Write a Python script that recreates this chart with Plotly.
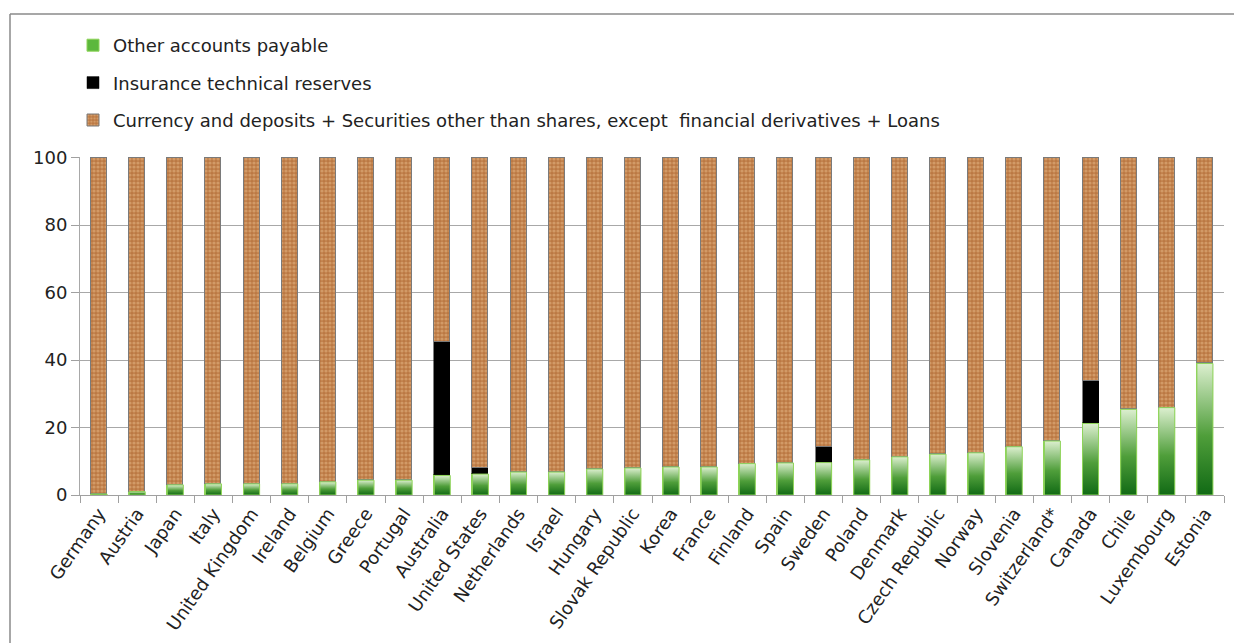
import plotly.graph_objects as go

# Composition of liabilities by country, percent of total
countries = [
    "Germany", "Austria", "Japan", "Italy", "United Kingdom", "Ireland",
    "Belgium", "Greece", "Portugal", "Australia", "United States",
    "Netherlands", "Israel", "Hungary", "Slovak Republic", "Korea", "France",
    "Finland", "Spain", "Sweden", "Poland", "Denmark", "Czech Republic",
    "Norway", "Slovenia", "Switzerland*", "Canada", "Chile", "Luxembourg",
    "Estonia",
]

other_payable = [0.3, 1.0, 3.0, 3.3, 3.3, 3.3, 3.9, 4.4, 4.4, 5.8, 6.2,
                 6.8, 6.8, 7.7, 8.0, 8.3, 8.3, 9.3, 9.5, 9.6, 10.4, 11.3,
                 12.1, 12.5, 14.3, 16.0, 21.2, 25.4, 25.9, 39.0]
insurance = [0, 0, 0, 0, 0, 0, 0, 0, 0, 39.6, 1.8,
             0, 0, 0, 0, 0, 0, 0, 0, 4.6, 0, 0,
             0, 0, 0, 0, 12.6, 0, 0, 0]
currency_loans = [round(100 - a - b, 1) for a, b in zip(other_payable, insurance)]

y_ticks = [0, 20, 40, 60, 80, 100]

FONT = "DejaVu Sans"
BAR_W = 0.42
xs = list(range(len(countries)))

fig = go.Figure()

fig.add_trace(go.Bar(
    x=xs, y=other_payable, width=BAR_W, name="Other accounts payable",
    marker=dict(color="#5cb83c", line=dict(color="#8fd45a", width=1)),
    legendgroup="a",
))
fig.add_trace(go.Bar(
    x=xs, y=insurance, width=BAR_W, name="Insurance technical reserves",
    marker=dict(color="#000000", line=dict(color="#000000", width=0.5)),
    legendgroup="b",
))
fig.add_trace(go.Bar(
    x=xs, y=currency_loans, width=BAR_W,
    name="Currency and deposits + Securities other than shares, except  financial derivatives + Loans",
    marker=dict(
        color="#bb7843",
        line=dict(color="#7a7a7a", width=1),
        pattern=dict(shape=".", fgcolor="#eabb8b", size=4, solidity=0.5,
                     fillmode="overlay"),
    ),
    legendgroup="c",
))

# vertical green shading on each "other accounts payable" segment
for i, v in enumerate(other_payable):
    if v <= 0:
        continue
    x0, x1 = i - BAR_W / 2, i + BAR_W / 2
    fig.add_trace(go.Scatter(
        x=[x0, x1, x1, x0, x0], y=[0, 0, v, v, 0],
        mode="lines", fill="toself",
        line=dict(color="#8fd45a", width=1),
        fillgradient=dict(type="vertical", start=0, stop=v,
                          colorscale=[[0, "#116a15"], [0.45, "#4f9e3a"],
                                      [1, "#dcefcf"]]),
        showlegend=False, hoverinfo="skip",
    ))

L, R, T, B = 80, 10, 157, 148
W, H = 1234, 643
pw, ph = W - L - R, H - T - B


def px_x(p):
    return (p - L) / pw


def px_y(p):
    return (H - B - p) / ph


# outer frame (top and left edges)
fig.add_shape(type="line", xref="paper", yref="paper",
              x0=px_x(10), x1=px_x(W + 5), y0=px_y(14), y1=px_y(14),
              line=dict(color="#8a8a8a", width=1.5))
fig.add_shape(type="line", xref="paper", yref="paper",
              x0=px_x(10), x1=px_x(10), y0=px_y(14), y1=px_y(H + 5),
              line=dict(color="#8a8a8a", width=1.5))

fig.update_layout(
    width=W, height=H,
    margin=dict(l=L, r=R, t=T, b=B),
    barmode="stack",
    bargap=0,
    plot_bgcolor="white", paper_bgcolor="white",
    font=dict(family=FONT, size=18, color="#222222"),
    showlegend=True,
    legend=dict(
        x=px_x(73), y=px_y(27), xanchor="left", yanchor="top",
        traceorder="grouped", tracegroupgap=11,
        font=dict(family=FONT, size=18, color="#222222"),
        bgcolor="rgba(0,0,0,0)",
    ),
    xaxis=dict(
        range=[-0.5, len(countries) - 0.5],
        tickmode="array", tickvals=xs, ticktext=countries,
        tickangle=-55, ticks="",
        tickfont=dict(family=FONT, size=18, color="#222222"),
        showgrid=False, zeroline=False,
        showline=True, linecolor="#a0a0a0", linewidth=1,
        minor=dict(tickmode="linear", tick0=-0.5, dtick=1, ticks="outside",
                   ticklen=7, tickcolor="#a0a0a0", showgrid=False),
    ),
    yaxis=dict(
        range=[0, 100.2],
        tickmode="array", tickvals=y_ticks,
        ticks="outside", ticklen=8, tickcolor="#a0a0a0",
        tickfont=dict(family=FONT, size=18, color="#222222"),
        showgrid=True, gridcolor="#a8a8a8", gridwidth=1,
        zeroline=False,
        showline=True, linecolor="#a8a8a8", linewidth=1,
    ),
)

fig.write_html("out.html")
